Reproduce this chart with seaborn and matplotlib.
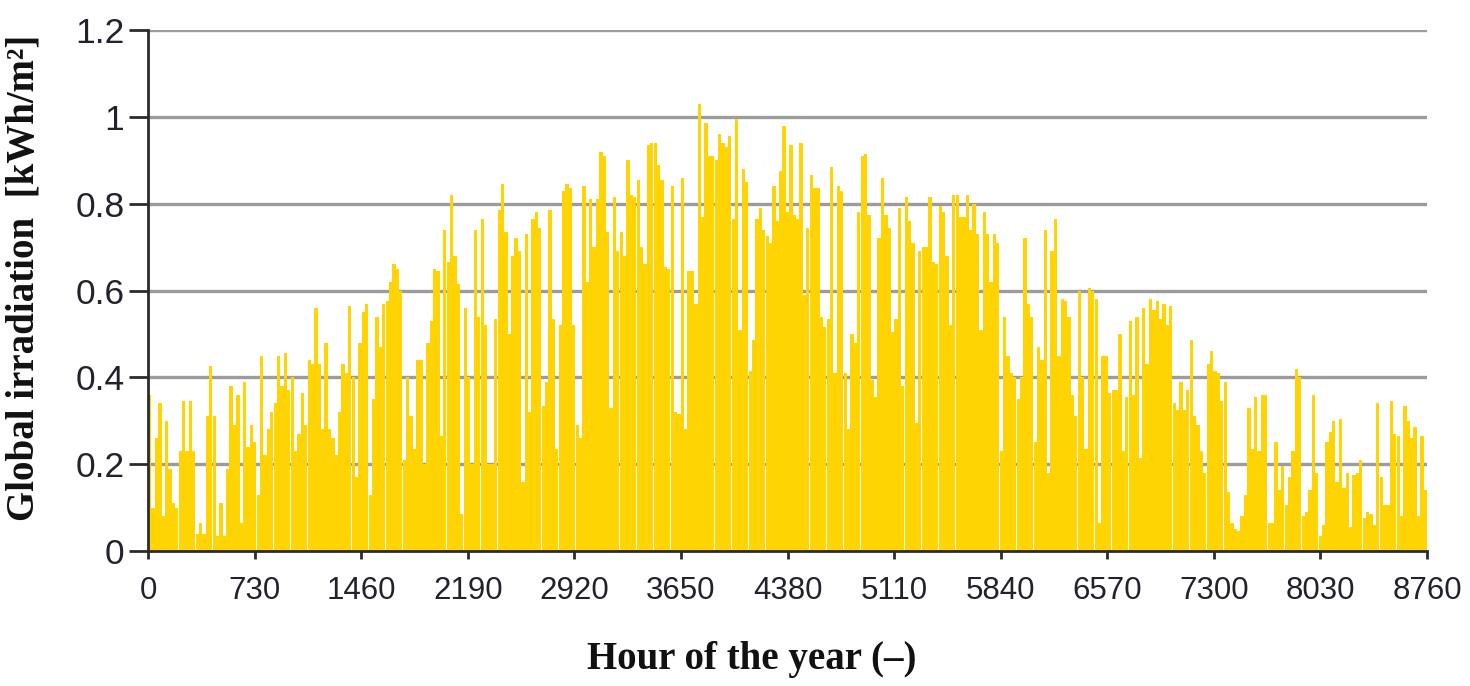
import numpy as np
import pandas as pd
import matplotlib
matplotlib.use("Agg")
import matplotlib.pyplot as plt
import seaborn as sns

# Daily peak global irradiation [kWh/m²], in order through the year
peak_h0000_1100 = [0.36, 0.10, 0.26, 0.34, 0.08, 0.30, 0.19, 0.11, 0.10, 0.23, 0.345, 0.23,
                   0.345, 0.23, 0.04, 0.065, 0.04, 0.31, 0.425, 0.31, 0.035, 0.11, 0.035, 0.19,
                   0.38, 0.29, 0.36, 0.065, 0.39, 0.24, 0.29, 0.25, 0.13, 0.45, 0.22, 0.28,
                   0.32, 0.34, 0.45, 0.38, 0.455, 0.37, 0.40, 0.23, 0.27, 0.365, 0.29, 0.44]
peak_h1100_2200 = [0.43, 0.56, 0.43, 0.28, 0.48, 0.28, 0.26, 0.22, 0.32, 0.43, 0.41, 0.565,
                   0.40, 0.17, 0.48, 0.55, 0.57, 0.13, 0.35, 0.54, 0.47, 0.57, 0.575, 0.62,
                   0.66, 0.65, 0.60, 0.21, 0.40, 0.31, 0.235, 0.44, 0.44, 0.20, 0.48, 0.53,
                   0.65, 0.645, 0.265, 0.74, 0.665, 0.82, 0.68, 0.615, 0.085, 0.56, 0.40]
peak_h2200_3300 = [0.20, 0.74, 0.54, 0.765, 0.52, 0.20, 0.20, 0.535, 0.785, 0.845, 0.735, 0.50,
                   0.68, 0.72, 0.69, 0.16, 0.73, 0.32, 0.765, 0.78, 0.745, 0.335, 0.39, 0.785,
                   0.535, 0.235, 0.52, 0.83, 0.845, 0.835, 0.52, 0.29, 0.26, 0.84, 0.62, 0.81,
                   0.70, 0.81, 0.92, 0.91, 0.735, 0.33, 0.815, 0.69, 0.735, 0.68]
peak_h3300_4400 = [0.90, 0.82, 0.815, 0.855, 0.70, 0.66, 0.935, 0.94, 0.94, 0.89, 0.855, 0.655,
                   0.65, 0.84, 0.32, 0.315, 0.86, 0.28, 0.645, 0.645, 0.57, 1.03, 0.77, 0.985,
                   0.91, 0.91, 0.90, 0.96, 0.94, 0.93, 0.955, 0.765, 0.995, 0.51, 0.88, 0.85,
                   0.415, 0.485, 0.765, 0.79, 0.74, 0.725, 0.71, 0.84, 0.76, 0.875, 0.98]
peak_h4400_5500 = [0.78, 0.935, 0.775, 0.765, 0.94, 0.59, 0.745, 0.865, 0.835, 0.835, 0.54, 0.515,
                   0.535, 0.885, 0.41, 0.84, 0.83, 0.41, 0.28, 0.50, 0.48, 0.78, 0.91, 0.915,
                   0.775, 0.395, 0.355, 0.72, 0.86, 0.775, 0.745, 0.505, 0.535, 0.79, 0.38, 0.815,
                   0.76, 0.71, 0.295, 0.69, 0.70, 0.70, 0.815, 0.665, 0.66, 0.795, 0.78, 0.68]
peak_h5500_6600 = [0.52, 0.82, 0.82, 0.77, 0.77, 0.82, 0.74, 0.80, 0.73, 0.51, 0.78, 0.73,
                   0.62, 0.73, 0.71, 0.23, 0.54, 0.45, 0.41, 0.40, 0.35, 0.40, 0.72, 0.57,
                   0.54, 0.25, 0.47, 0.44, 0.74, 0.18, 0.69, 0.765, 0.45, 0.58, 0.575, 0.54,
                   0.36, 0.31, 0.60, 0.40, 0.235, 0.605, 0.60, 0.58, 0.065, 0.45]
peak_h6600_7700 = [0.45, 0.365, 0.37, 0.37, 0.50, 0.23, 0.355, 0.53, 0.36, 0.54, 0.215, 0.56,
                   0.43, 0.58, 0.555, 0.575, 0.535, 0.57, 0.52, 0.565, 0.34, 0.325, 0.39, 0.325,
                   0.37, 0.485, 0.31, 0.29, 0.23, 0.18, 0.43, 0.46, 0.415, 0.41, 0.345, 0.39,
                   0.135, 0.065, 0.05, 0.045, 0.08, 0.13, 0.33, 0.235, 0.355, 0.23, 0.36, 0.36]
peak_h7700_8760 = [0.065, 0.065, 0.25, 0.14, 0.195, 0.105, 0.17, 0.23, 0.42, 0.40, 0.08, 0.09,
                   0.14, 0.36, 0.18, 0.035, 0.06, 0.25, 0.275, 0.30, 0.16, 0.305, 0.145, 0.18,
                   0.055, 0.175, 0.18, 0.21, 0.075, 0.09, 0.085, 0.06, 0.34, 0.17, 0.105, 0.105,
                   0.345, 0.27, 0.265, 0.08, 0.335, 0.30, 0.26, 0.285, 0.08, 0.265, 0.14]

hour_ticks = [0, 730, 1460, 2190, 2920, 3650, 4380, 5110, 5840, 6570, 7300, 8030, 8760]
y_ticks = [0, 0.2, 0.4, 0.6, 0.8, 1.0, 1.2]
y_tick_labels = ["0", "0.2", "0.4", "0.6", "0.8", "1", "1.2"]
x_label = "Hour of the year (–)"
y_label = "Global irradiation  [kWh/m²]"

peaks = np.concatenate([peak_h0000_1100, peak_h1100_2200, peak_h2200_3300, peak_h3300_4400,
                        peak_h4400_5500, peak_h5500_6600, peak_h6600_7700, peak_h7700_8760])
n = len(peaks)
hours = (np.arange(n) + 0.5) * (8760 / n)
df = pd.DataFrame({"hour": hours, "irr": peaks})

sns.set_theme(style="white")
plt.rcParams["font.family"] = ["Liberation Sans", "DejaVu Sans"]

W, H = 1470, 686
fig = plt.figure(figsize=(W / 100, H / 100), dpi=100)
x0, x1, ytop, ybot = 148, 1427, 30, 551
ax = fig.add_axes([x0 / W, 1 - ybot / H, (x1 - x0) / W, (ybot - ytop) / H])

sns.barplot(data=df, x="hour", y="irr", native_scale=True, width=0.96,
            color="#FFD402", saturation=1, errorbar=None, linewidth=0, ax=ax)

ax.set_xlim(0, 8760)
ax.set_ylim(0, 1.2)
ax.set_xticks(hour_ticks)
ax.set_xticklabels([str(h) for h in hour_ticks])
ax.set_yticks(y_ticks)
ax.set_yticklabels(y_tick_labels)
ax.set_xlabel("")
ax.set_ylabel("")

ax.set_axisbelow(True)
ax.yaxis.grid(True, color="#9c9c9c", linewidth=2.4)
ax.xaxis.grid(False)
for s in ["top", "right"]:
    ax.spines[s].set_visible(False)
for s in ["left", "bottom"]:
    ax.spines[s].set_color("#2b2b2b")
    ax.spines[s].set_linewidth(2)

ax.tick_params(axis="y", direction="out", length=14, width=2, color="#2b2b2b",
               pad=3, labelsize=25.5, labelcolor="#22222c", left=True)
ax.tick_params(axis="x", direction="out", length=6, width=2, color="#2b2b2b",
               pad=12, labelsize=22.5, labelcolor="#22222c", bottom=True)

fig.text(24 / W, 1 - 278 / H, y_label, rotation=90, ha="center", va="center",
         fontfamily="Liberation Serif", fontweight="bold", fontsize=28, color="#111111")
fig.text(752 / W, 1 - 660 / H, x_label, ha="center", va="center",
         fontfamily="Liberation Serif", fontweight="bold", fontsize=28, color="#111111")

fig.savefig("out.png", dpi=100, facecolor="white")
